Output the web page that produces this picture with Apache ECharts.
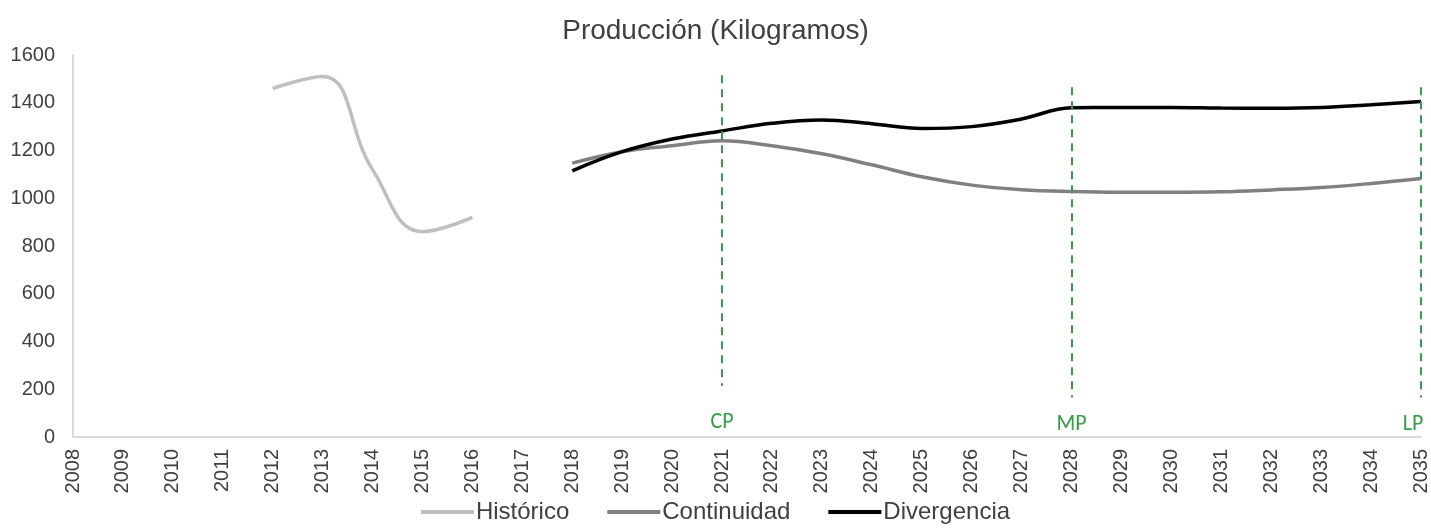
<!DOCTYPE html>
<html>
<head>
<meta charset="utf-8">
<script src="https://cdn.jsdelivr.net/npm/echarts@6/dist/echarts.min.js"></script>
<style>html,body{margin:0;padding:0;background:#fff}#c{width:1431px;height:531px}</style>
</head>
<body>
<div id="c"></div>
<script>
const years = ['2008','2009','2010','2011','2012','2013','2014','2015','2016','2017','2018','2019','2020','2021','2022','2023','2024','2025','2026','2027','2028','2029','2030','2031','2032','2033','2034','2035'];
const historico   = [null,null,null,null,1460,1510,1120,860,920,null,null,null,null,null,null,null,null,null,null,null,null,null,null,null,null,null,null,null];
const continuidad = [null,null,null,null,null,null,null,null,null,null,1147,1195,1220,1241,1220,1186,1140,1090,1055,1036,1028,1025,1025,1027,1035,1045,1062,1083];
const divergencia = [null,null,null,null,null,null,null,null,null,null,1115,1195,1248,1282,1314,1328,1312,1292,1300,1332,1379,1380,1380,1378,1377,1380,1392,1405];
const yTicks = [0,200,400,600,800,1000,1200,1400,1600];
const horizons = [{name:'CP', year:'2021'},{name:'MP', year:'2028'},{name:'LP', year:'2035'}];

const green = '#33a043';
const chart = echarts.init(document.getElementById('c'), null, {renderer:'canvas'});
const txt = '#404040';
const ff = "'Liberation Sans', Arial, sans-serif";
chart.setOption({
  animation:false,
  title:{text:'Producción (Kilogramos)', left:'center', top:12,
    textStyle:{fontFamily:ff, fontSize:28, fontWeight:'normal', color:txt}},
  grid:{left:73, right:8, top:55, bottom:94, containLabel:false},
  legend:{top:500, left:'center', itemWidth:53, itemHeight:4, itemGap:38, icon:'rect', padding:[0,5,0,5],
    textStyle:{fontFamily:ff, fontSize:24, color:txt, padding:[0,0,0,-3]},
    data:['Histórico','Continuidad','Divergencia']},
  xAxis:{type:'category', data:years, boundaryGap:false,
    axisLine:{lineStyle:{color:'#d9d9d9', width:2}}, axisTick:{show:false},
    axisLabel:{rotate:90, interval:0, margin:12, fontFamily:ff, fontSize:20, color:txt}},
  yAxis:{type:'value', min:yTicks[0], max:yTicks[yTicks.length-1], interval:200,
    splitLine:{show:false}, axisTick:{show:false},
    axisLine:{show:true, lineStyle:{color:'#d9d9d9', width:2}},
    axisLabel:{margin:18, fontFamily:ff, fontSize:20, color:txt, formatter:v=>String(v)}},
  series:[
    {name:'Histórico', type:'line', data:historico, smooth:0.45, symbol:'none', connectNulls:false,
      lineStyle:{color:'#bfbfbf', width:3.5}, itemStyle:{color:'#bfbfbf'}},
    {name:'Continuidad', type:'line', data:continuidad, smooth:0.4, symbol:'none',
      lineStyle:{color:'#808080', width:3.5}, itemStyle:{color:'#808080'}},
    {name:'Divergencia', type:'line', data:divergencia, smooth:0.4, symbol:'none',
      lineStyle:{color:'#000000', width:3.5}, itemStyle:{color:'#000000'},
      markLine:{silent:true, symbol:['none','none'],
        lineStyle:{color:green, type:[8,6], width:2},
        label:{show:true, position:'end', color:green, fontSize:22,
          fontFamily:"Carlito, 'Open Sans', sans-serif", formatter:p=>p.name},
        data: horizons.map((h,i)=>[
          {name:h.name, coord:[h.year, i===0?1515:1465],
            label:{distance:i===0?26:16, offset:[i===2?-8:0,0]}},
          {coord:[h.year, i===0?215:165]}
        ])}}
  ]
});
</script>
</body>
</html>
